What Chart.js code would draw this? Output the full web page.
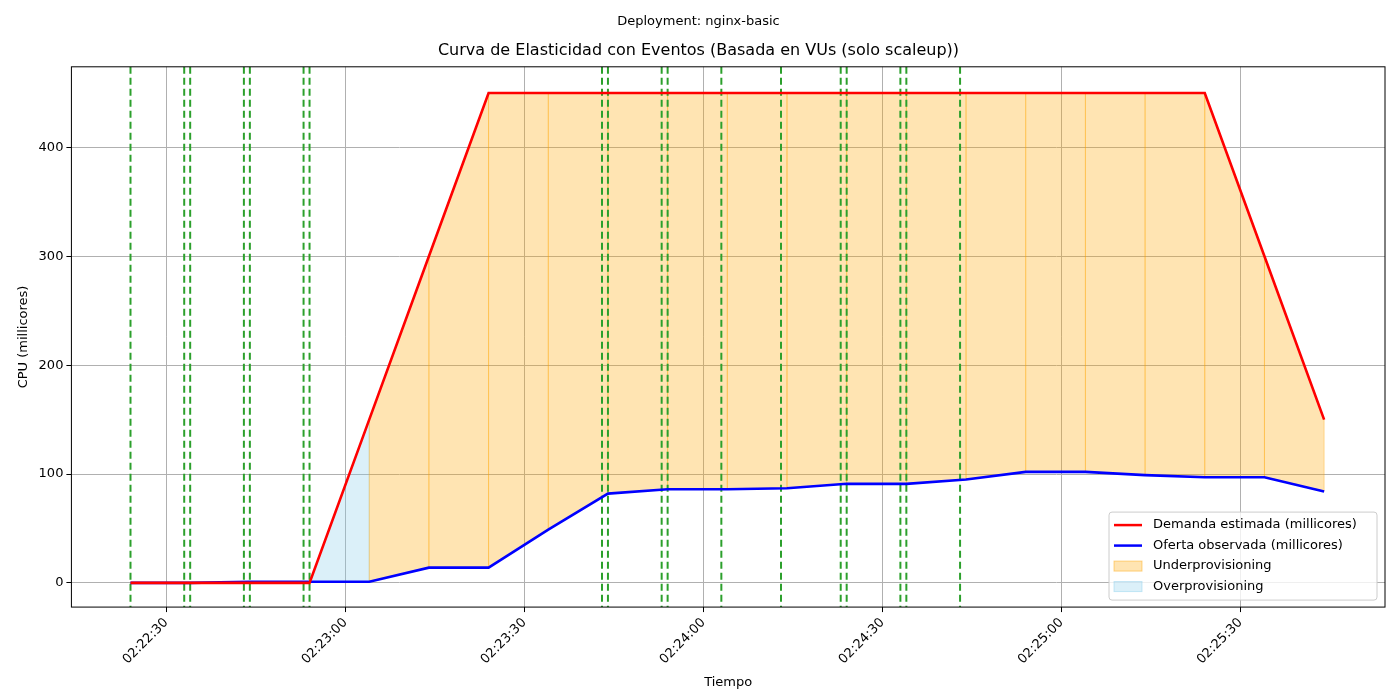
<!DOCTYPE html>
<html>
<head>
<meta charset="utf-8">
<script src="https://cdn.jsdelivr.net/npm/chart.js@4.4.1/dist/chart.umd.min.js"></script>
<style>
  html, body { margin: 0; padding: 0; background: #fff; }
  #wrap { width: 1400px; height: 700px; }
</style>
</head>
<body>
<div id="wrap"><canvas id="c" width="1400" height="700"></canvas></div>
<script>
// seconds after 02:22:24
const times = [0, 10, 20, 30, 40, 50, 60, 70, 80, 90, 100, 110, 120, 130, 140, 150, 160, 170, 180, 190, 200];
const demand = [0, 0, 0, 0, 150, 300, 450, 450, 450, 450, 450, 450, 450, 450, 450, 450, 450, 450, 450, 300, 150];
const supply = [0, 0, 1, 1, 1, 14, 14, 49, 82, 86, 86, 87, 91, 91, 95, 102, 102, 99, 97, 97, 84];
const events = [0, 9, 10, 19, 20, 29, 30, 79, 80, 89, 90, 99, 109, 119, 120, 129, 130, 139];
const tickSecs = [6, 36, 66, 96, 126, 156, 186];
const tickLabels = ["02:22:30", "02:23:00", "02:23:30", "02:24:00", "02:24:30", "02:25:00", "02:25:30"];

const orangeFill = "rgba(255,165,0,0.3)";
const blueFill = "rgba(135,206,235,0.3)";

const fillPlugin = {
  id: "fills",
  beforeDatasetsDraw(chart) {
    const { ctx, scales: { x, y }, chartArea } = chart;
    ctx.save();
    ctx.beginPath();
    ctx.rect(chartArea.left, chartArea.top, chartArea.width, chartArea.height);
    ctx.clip();
    for (let i = 0; i < times.length - 1; i++) {
      const under = demand[i] > supply[i];
      ctx.fillStyle = under ? orangeFill : blueFill;
      ctx.strokeStyle = under ? "rgba(255,165,0,0.35)" : "rgba(135,206,235,0.35)";
      ctx.lineWidth = 1;
      ctx.beginPath();
      ctx.moveTo(x.getPixelForValue(times[i]), y.getPixelForValue(demand[i]));
      ctx.lineTo(x.getPixelForValue(times[i + 1]), y.getPixelForValue(demand[i + 1]));
      ctx.lineTo(x.getPixelForValue(times[i + 1]), y.getPixelForValue(supply[i + 1]));
      ctx.lineTo(x.getPixelForValue(times[i]), y.getPixelForValue(supply[i]));
      ctx.closePath();
      ctx.fill();
      ctx.stroke();
    }
    ctx.strokeStyle = "#2ca02c";
    ctx.lineWidth = 2;
    ctx.setLineDash([7, 4]);
    events.forEach((t) => {
      const px = x.getPixelForValue(t);
      ctx.beginPath();
      ctx.moveTo(px, chartArea.top);
      ctx.lineTo(px, chartArea.bottom);
      ctx.stroke();
    });
    ctx.restore();
  },
  afterDraw(chart) {
    const { ctx, chartArea } = chart;
    ctx.save();
    ctx.strokeStyle = "#000";
    ctx.lineWidth = 1;
    ctx.strokeRect(chartArea.left, chartArea.top, chartArea.width, chartArea.height);
    // legend
    const items = [
      { label: "Demanda estimada (millicores)", type: "line", color: "red" },
      { label: "Oferta observada (millicores)", type: "line", color: "blue" },
      { label: "Underprovisioning", type: "box", color: orangeFill, edge: "rgba(255,165,0,0.45)" },
      { label: "Overprovisioning", type: "box", color: blueFill, edge: "rgba(135,206,235,0.45)" },
    ];
    const w = 268, h = 88;
    const lx = chartArea.right - w - 8, ly = chartArea.bottom - h - 7;
    ctx.fillStyle = "rgba(255,255,255,0.8)";
    ctx.strokeStyle = "#ccc";
    ctx.beginPath();
    ctx.roundRect(lx, ly, w, h, 3);
    ctx.fill();
    ctx.stroke();
    ctx.font = "13px 'DejaVu Sans'";
    ctx.textBaseline = "middle";
    items.forEach((it, i) => {
      const cy = ly + 13 + i * 20.5;
      if (it.type === "line") {
        ctx.strokeStyle = it.color;
        ctx.lineWidth = 2.5;
        ctx.beginPath();
        ctx.moveTo(lx + 5, cy);
        ctx.lineTo(lx + 33, cy);
        ctx.stroke();
      } else {
        ctx.fillStyle = it.color;
        ctx.fillRect(lx + 5, cy - 5, 28, 10);
        ctx.strokeStyle = it.edge;
        ctx.lineWidth = 1;
        ctx.strokeRect(lx + 5, cy - 5, 28, 10);
      }
      ctx.fillStyle = "#000";
      ctx.fillText(it.label, lx + 44, cy);
    });
    ctx.restore();
  },
};

new Chart(document.getElementById("c"), {
  type: "line",
  data: {
    datasets: [
      { data: times.map((t, i) => ({ x: t, y: demand[i] })), borderColor: "red", borderWidth: 2.6, pointRadius: 0, tension: 0 },
      { data: times.map((t, i) => ({ x: t, y: supply[i] })), borderColor: "blue", borderWidth: 2.6, pointRadius: 0, tension: 0 },
    ],
  },
  options: {
    responsive: false,
    animation: false,
    layout: { padding: { left: 12, right: 15, top: 0, bottom: 6 } },
    plugins: {
      legend: { display: false },
      tooltip: { enabled: false },
      title: { display: true, text: "Deployment: nginx-basic", color: "#000", font: { family: "DejaVu Sans", size: 13, weight: "normal" }, padding: { top: 14, bottom: 12 } },
      subtitle: { display: true, text: "Curva de Elasticidad con Eventos (Basada en VUs (solo scaleup))", color: "#000", font: { family: "DejaVu Sans", size: 16 }, padding: { top: 0, bottom: 6 } },
    },
    scales: {
      x: {
        type: "linear",
        min: -9.9,
        max: 210.2,
        afterBuildTicks(axis) { axis.ticks = tickSecs.map((v) => ({ value: v })); },
        ticks: {
          autoSkip: false,
          maxRotation: 45,
          minRotation: 45,
          color: "#000",
          font: { family: "DejaVu Sans", size: 13 },
          callback: (v) => tickLabels[tickSecs.indexOf(v)],
        },
        grid: { color: "#b0b0b0", drawTicks: true, tickColor: "#000", tickLength: 5 },
        border: { display: false },
        title: { display: true, text: "Tiempo", color: "#000", font: { family: "DejaVu Sans", size: 13 } },
      },
      y: {
        min: -22.2,
        max: 474,
        afterBuildTicks(axis) { axis.ticks = [0, 100, 200, 300, 400].map((v) => ({ value: v })); },
        ticks: { color: "#000", font: { family: "DejaVu Sans", size: 13 } },
        grid: { color: "#b0b0b0", tickColor: "#000", tickLength: 5 },
        border: { display: false },
        title: { display: true, text: "CPU (millicores)", color: "#000", font: { family: "DejaVu Sans", size: 13 } },
      },
    },
  },
  plugins: [fillPlugin],
});
</script>
</body>
</html>
